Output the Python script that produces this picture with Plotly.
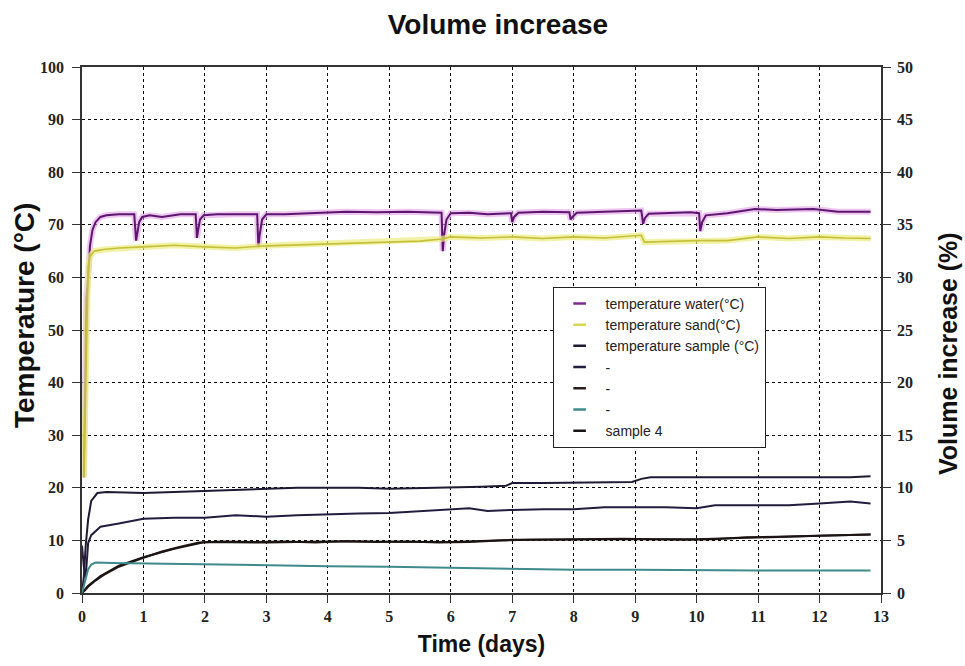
import plotly.graph_objects as go

# ---------------- data ----------------
WATER_DAYS = [0.03, 0.05, 0.07, 0.10, 0.13, 0.17, 0.22, 0.30, 0.40, 0.60,
              0.85, 0.88, 0.90, 0.93, 0.98, 1.10, 1.30, 1.60, 1.85, 1.87,
              1.89, 1.92, 1.98, 2.20, 2.50, 2.85, 2.87, 2.89, 2.93, 3.00,
              3.30, 3.80, 4.30, 4.80, 5.30, 5.85, 5.87, 5.89, 5.93, 6.00,
              6.30, 6.60, 6.98, 7.00, 7.03, 7.10, 7.50, 7.93, 7.95, 7.98,
              8.05, 8.50, 9.10, 9.13, 9.16, 9.22, 9.50, 9.90, 10.04, 10.06,
              10.09, 10.15, 10.50, 10.95, 11.30, 11.90, 12.30, 12.83]
WATER_TEMP = [22, 40, 56, 60, 66, 69, 70.5, 71.5, 71.8, 72,
              72, 67, 68.5, 70.5, 71.5, 71.8, 71.5, 72, 72, 67.5,
              69, 71, 71.8, 72, 72, 72, 65.8, 68, 71, 72,
              72, 72.3, 72.5, 72.4, 72.5, 72.3, 65, 68, 71, 72.2,
              72.3, 72.0, 72.2, 70.5, 71.5, 72.3, 72.5, 72.4, 71, 71.5,
              72.3, 72.5, 72.7, 70.2, 71.3, 72.1, 72.2, 72.4, 72.2, 68.8,
              70.5, 71.8, 72.2, 73, 72.8, 73, 72.5, 72.5]

SAND_DAYS = [0.03, 0.05, 0.08, 0.10, 0.13, 0.20, 0.35, 0.60, 1.0, 1.5,
             2.0, 2.5, 3.0, 3.5, 4.0, 4.5, 5.0, 5.5, 5.85, 6.0,
             6.5, 7.0, 7.5, 8.0, 8.5, 9.1, 9.15, 9.5, 10.0, 10.5,
             11.0, 11.5, 12.0, 12.4, 12.83]
SAND_TEMP = [22, 35, 55, 62, 64, 65, 65.3, 65.6, 65.8, 66.1,
             65.8, 65.6, 66.0, 66.2, 66.4, 66.5, 66.7, 66.9, 67.3, 67.7,
             67.5, 67.7, 67.4, 67.7, 67.5, 68.0, 66.7, 66.8, 67.0, 67.0,
             67.7, 67.4, 67.7, 67.5, 67.4]

# volume increase (%) curves, right axis
A_DAYS = [0.0, 0.03, 0.06, 0.1, 0.15, 0.25, 0.4, 0.7, 1.0, 1.5,
          2.0, 2.5, 3.0, 3.5, 4.0, 4.5, 5.0, 5.5, 6.0, 6.5,
          6.9, 7.0, 7.5, 8.0, 8.5, 8.95, 9.1, 9.25, 9.6, 10.0,
          10.5, 11.0, 11.5, 12.0, 12.5, 12.83]
A_VOL = [0, 1.5, 4.5, 7, 8.75, 9.5, 9.6, 9.55, 9.5, 9.6,
         9.7, 9.8, 9.9, 10.0, 10.0, 10.0, 9.9, 9.95, 10.0, 10.1,
         10.2, 10.45, 10.45, 10.5, 10.5, 10.55, 10.85, 11.0, 11.0, 11.0,
         10.95, 11.0, 10.95, 11.0, 11.0, 11.1]

B_DAYS = [0.0, 0.03, 0.06, 0.1, 0.15, 0.3, 0.6, 1.0, 1.5, 2.0,
          2.5, 3.0, 3.5, 4.0, 4.5, 5.0, 5.5, 6.0, 6.3, 6.6,
          7.0, 7.5, 8.0, 8.5, 9.0, 9.5, 10.0, 10.3, 11.0, 11.5,
          12.0, 12.5, 12.83]
B_VOL = [4.5, 2.5, 1.5, 4.75, 5.5, 6.3, 6.6, 7.05, 7.15, 7.15,
         7.4, 7.25, 7.4, 7.5, 7.55, 7.6, 7.75, 7.9, 8.05, 7.8,
         7.9, 7.95, 7.95, 8.15, 8.15, 8.15, 8.05, 8.35, 8.35, 8.35,
         8.5, 8.7, 8.5]

C_DAYS = [0.0, 0.05, 0.1, 0.2, 0.35, 0.6, 1.0, 1.3, 1.6, 1.9,
          2.3, 2.8, 3.3, 3.8, 4.3, 4.8, 5.3, 5.8, 6.3, 6.8,
          7.3, 7.8, 8.3, 8.8, 9.3, 9.8, 10.3, 10.8, 11.3, 11.8,
          12.3, 12.83]
C_VOL = [0, 0.25, 0.6, 1.1, 1.7, 2.5, 3.35, 3.95, 4.4, 4.8,
         4.9, 4.85, 4.9, 4.8, 4.95, 4.85, 4.9, 4.8, 4.85, 5.0,
         5.05, 5.1, 5.1, 5.15, 5.1, 5.05, 5.1, 5.3, 5.35, 5.45,
         5.5, 5.55]

D_DAYS = [0.0, 0.05, 0.1, 0.15, 0.22, 0.5, 1.0, 1.5, 2.0, 3.0,
          4.0, 5.0, 6.0, 7.0, 8.0, 9.0, 10.0, 11.0, 12.0, 12.83]
D_VOL = [0, 1, 2.25, 2.7, 2.9, 2.85, 2.8, 2.75, 2.7, 2.6,
         2.55, 2.5, 2.4, 2.25, 2.2, 2.2, 2.15, 2.15, 2.15, 2.15]

S4_DAYS = [0.0, 0.1, 0.3, 0.6, 1.0, 1.5, 2.0, 3.0, 4.0, 5.0,
           6.0, 7.0, 8.0, 9.0, 10.0, 11.0, 12.0, 12.83]
S4_VOL = [0, 0.7, 1.6, 2.6, 3.4, 4.2, 4.85, 4.8, 4.9, 4.85,
          4.85, 5.05, 5.1, 5.1, 5.1, 5.3, 5.45, 5.55]

LEGEND_NAMES = ["temperature water(°C)", "temperature sand(°C)",
                "temperature sample (°C)", "-", "-", "-", "sample 4"]
LEGEND_COLORS = ["#7a2a8c", "#d8d850", "#1f1a33", "#231c3f", "#2a1d18",
                 "#3f8a8a", "#1a1414"]

X_TICKS = list(range(0, 14))
Y_TICKS = list(range(0, 101, 10))
Y2_TICKS = list(range(0, 51, 5))

# ---------------- figure ----------------
fig = go.Figure()

# water (with light halo)
fig.add_trace(go.Scatter(x=WATER_DAYS, y=WATER_TEMP, mode="lines",
                         line=dict(color="rgba(226,160,228,0.6)", width=6),
                         showlegend=False, hoverinfo="skip"))
fig.add_trace(go.Scatter(x=WATER_DAYS, y=WATER_TEMP, mode="lines",
                         line=dict(color="#5c1670", width=2),
                         showlegend=False))
# sand (with light halo)
fig.add_trace(go.Scatter(x=SAND_DAYS, y=SAND_TEMP, mode="lines",
                         line=dict(color="rgba(236,236,130,0.7)", width=6),
                         showlegend=False, hoverinfo="skip"))
fig.add_trace(go.Scatter(x=SAND_DAYS, y=SAND_TEMP, mode="lines",
                         line=dict(color="#c4c03a", width=1.6),
                         showlegend=False))

lower = [(A_DAYS, A_VOL, "#1f1a33"), (B_DAYS, B_VOL, "#231c3f"),
         (C_DAYS, C_VOL, "#2a1d18"), (S4_DAYS, S4_VOL, "#1a1414"),
         (D_DAYS, D_VOL, "#3f8a8a")]
for xs, ys, col in lower:
    fig.add_trace(go.Scatter(x=xs, y=ys, mode="lines", yaxis="y2",
                             line=dict(color=col, width=2),
                             showlegend=False))

# legend entries (short dash symbols)
for name, col in zip(LEGEND_NAMES, LEGEND_COLORS):
    fig.add_trace(go.Scatter(x=[None], y=[None], mode="markers", name=name,
                             marker=dict(symbol="line-ew", size=9,
                                         line=dict(color=col, width=2.5))))

tickfont = dict(family="Liberation Serif", size=16, color="#222", weight="bold")
axis_common = dict(showline=True, linecolor="#333", linewidth=1.5,
                   ticks="outside", ticklen=8, tickcolor="#333",
                   tickfont=tickfont, zeroline=False)

fig.update_layout(
    width=965, height=666,
    margin=dict(l=82, r=84, t=67, b=73),
    paper_bgcolor="white", plot_bgcolor="white",
    title=dict(text="<b>Volume increase</b>", x=0.516, xanchor="center",
               y=0.964, yanchor="middle",
               font=dict(family="Liberation Sans", size=28, color="#111")),
    xaxis=dict(range=[0, 13], tickvals=X_TICKS, mirror=True,
               showgrid=True, gridcolor="#000", griddash="dot", gridwidth=1.2,
               title=dict(text="<b>Time (days)</b>", standoff=12,
                          font=dict(family="Liberation Sans", size=23, color="#111")),
               **axis_common),
    yaxis=dict(range=[0, 100], tickvals=Y_TICKS, ticklabelstandoff=5,
               showgrid=True, gridcolor="#000", griddash="dot", gridwidth=1.2,
               **axis_common),
    yaxis2=dict(range=[0, 50], tickvals=Y2_TICKS, overlaying="y", side="right",
                showgrid=False, ticklabelstandoff=3,
                **axis_common),
    annotations=[
        dict(text="<b>Temperature (°C)</b>", textangle=-90, showarrow=False,
             xref="paper", yref="paper", x=(24 - 82) / 799, y=(593 - 316) / 526,
             xanchor="center", yanchor="middle",
             font=dict(family="Liberation Sans", size=28, color="#111")),
        dict(text="<b>Volume increase (%)</b>", textangle=-90, showarrow=False,
             xref="paper", yref="paper", x=(948 - 82) / 799, y=(593 - 354) / 526,
             xanchor="center", yanchor="middle",
             font=dict(family="Liberation Sans", size=25, color="#111")),
    ],
    legend=dict(x=0.589, y=0.582, xanchor="left", yanchor="top",
                bgcolor="white", bordercolor="#222", borderwidth=1,
                font=dict(family="Liberation Sans", size=14, color="#222"),
                tracegroupgap=0, itemwidth=42),
)

fig.write_html("out.html")
